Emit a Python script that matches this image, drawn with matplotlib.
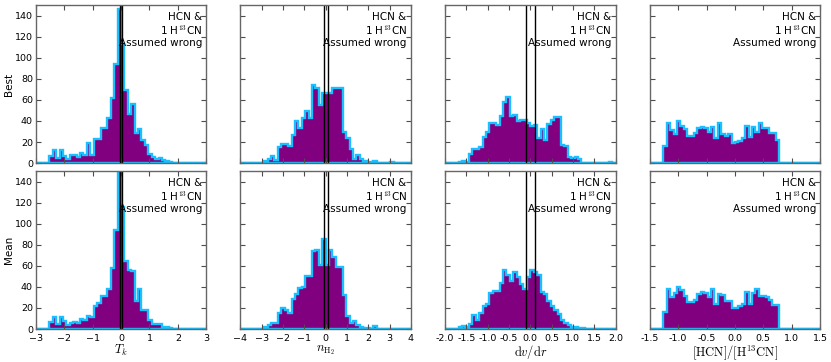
import numpy as np
import matplotlib
matplotlib.use("Agg")
import matplotlib.pyplot as plt

plt.rcParams['mathtext.fontset'] = 'cm'
plt.rcParams['font.family'] = ['DejaVu Sans']

# x ranges of each column; histograms use 50 equal bins across the range
xlims = [(-3, 3), (-4, 4), (-2, 2), (-1.5, 1.5)]
xlabels = [r'$T_k$', r'$n_{\rm H_2}$', r'${\rm d}v/{\rm d}r$', r'$[{\rm HCN}]/[{\rm H}^{13}{\rm CN}]$']
row_labels = ['Best', 'Mean']
vlines = [(-0.05, 0.05), (-0.1, 0.1), (-0.1, 0.1), ()]
note = 'HCN &\n1 H$^{13}$CN\nAssumed wrong'

def pad(start, vals):
    a = [0] * 50
    for i, v in enumerate(vals):
        a[start + i] = v
    return a

# counts per bin (bins start index, values)
best_Tk = pad(4, [7, 12, 5, 12, 7, 4, 8, 8, 6, 10, 8, 19, 8, 23, 23, 33, 33, 43, 62, 94,
                  146, 113, 69, 47, 56, 29, 32, 22, 17, 9, 6, 4, 5, 3, 2, 1])
best_nH2 = pad(7, [2, 4, 7, 3, 15, 18, 18, 16, 27, 40, 33, 43, 49, 43, 74, 71, 55, 67, 67, 67,
                   71, 71, 71, 30, 24, 13, 4, 8, 4, 2, 0, 1, 2, 0, 0, 0, 0, 1])
best_dvdr = pad(4, [1, 2, 1, 9, 13, 13, 15, 25, 30, 38, 38, 36, 45, 58, 63, 45, 46, 40, 41, 41,
                    38, 35, 36, 24, 32, 22, 37, 41, 44, 44, 17, 16, 6, 5, 6, 4, 0, 0, 0, 0,
                    0, 0, 0, 0, 1])
best_ratio = pad(4, [16, 38, 31, 28, 40, 35, 32, 26, 26, 29, 33, 34, 33, 30, 34, 24, 38, 28, 26, 28,
                     19, 20, 21, 24, 35, 25, 34, 30, 38, 33, 33, 29, 29, 22])
mean_Tk = pad(4, [7, 11, 5, 11, 8, 4, 6, 7, 6, 10, 9, 12, 11, 22, 25, 31, 31, 38, 58, 94,
                  160, 116, 65, 56, 55, 27, 38, 18, 18, 9, 5, 5, 5, 2, 2, 1])
mean_nH2 = pad(7, [2, 4, 6, 6, 15, 20, 18, 15, 29, 33, 39, 40, 50, 50, 74, 75, 61, 85, 61, 75,
                   68, 59, 59, 32, 12, 6, 8, 4, 2, 1, 1, 0, 3])
mean_dvdr = pad(4, [2, 3, 2, 5, 13, 9, 15, 22, 24, 34, 36, 36, 44, 56, 51, 46, 54, 49, 43, 38,
                    49, 56, 54, 51, 35, 33, 27, 22, 18, 14, 9, 6, 4, 2, 2, 1, 1])
mean_ratio = pad(4, [16, 38, 30, 34, 40, 37, 31, 26, 26, 28, 33, 35, 34, 30, 38, 24, 33, 32, 27, 27,
                     20, 20, 22, 24, 35, 24, 34, 38, 31, 31, 30, 28, 23, 23])

counts = [[best_Tk, best_nH2, best_dvdr, best_ratio],
          [mean_Tk, mean_nH2, mean_dvdr, mean_ratio]]

fig, axes = plt.subplots(2, 4, figsize=(8.31, 3.62), dpi=100)
fig.subplots_adjust(left=0.043, right=0.987, top=0.986, bottom=0.091, wspace=0.2, hspace=0.05)

for r in range(2):
    for c in range(4):
        ax = axes[r, c]
        lo, hi = xlims[c]
        edges = np.linspace(lo, hi, 51)
        centers = 0.5 * (edges[:-1] + edges[1:])
        ax.hist(centers, bins=edges, weights=counts[r][c], histtype='stepfilled',
                facecolor='#800080', edgecolor='#18c0ff', linewidth=1.7)
        for v in vlines[c]:
            ax.axvline(v, color='black', linewidth=1.0)
        ax.set_xlim(lo, hi)
        ax.set_ylim(0, 150)
        ax.set_yticks(np.arange(0, 141, 20))
        if c == 3:
            ax.set_xticks([-1.5, -1.0, -0.5, 0.0, 0.5, 1.0, 1.5])
        elif c == 2:
            ax.set_xticks(np.arange(-2.0, 2.01, 0.5))
        else:
            ax.set_xticks(np.arange(lo, hi + 0.01, 1))
        ax.tick_params(direction='in', top=True, right=True, length=3.5, width=0.8,
                       labelsize=6.8, color='0.3')
        ax.tick_params(axis='x', pad=3.5)
        ax.tick_params(axis='y', pad=2)
        for s in ax.spines.values():
            s.set_color('0.4')
            s.set_linewidth(1.0)
        if c == 0:
            ax.set_ylabel(row_labels[r], fontsize=7.5, labelpad=1)
        else:
            ax.tick_params(labelleft=False)
        if r == 0:
            ax.tick_params(labelbottom=False)
        else:
            if c >= 2:
                ax.xaxis.set_major_formatter(matplotlib.ticker.FormatStrFormatter('%.1f'))
            ax.set_xlabel(xlabels[c], fontsize=9, labelpad=0)
        ax.text(0.975, 0.955, note, transform=ax.transAxes, ha='right', va='top',
                fontsize=7.5, linespacing=1.1, multialignment='right')

fig.savefig('out.png', dpi=100)
